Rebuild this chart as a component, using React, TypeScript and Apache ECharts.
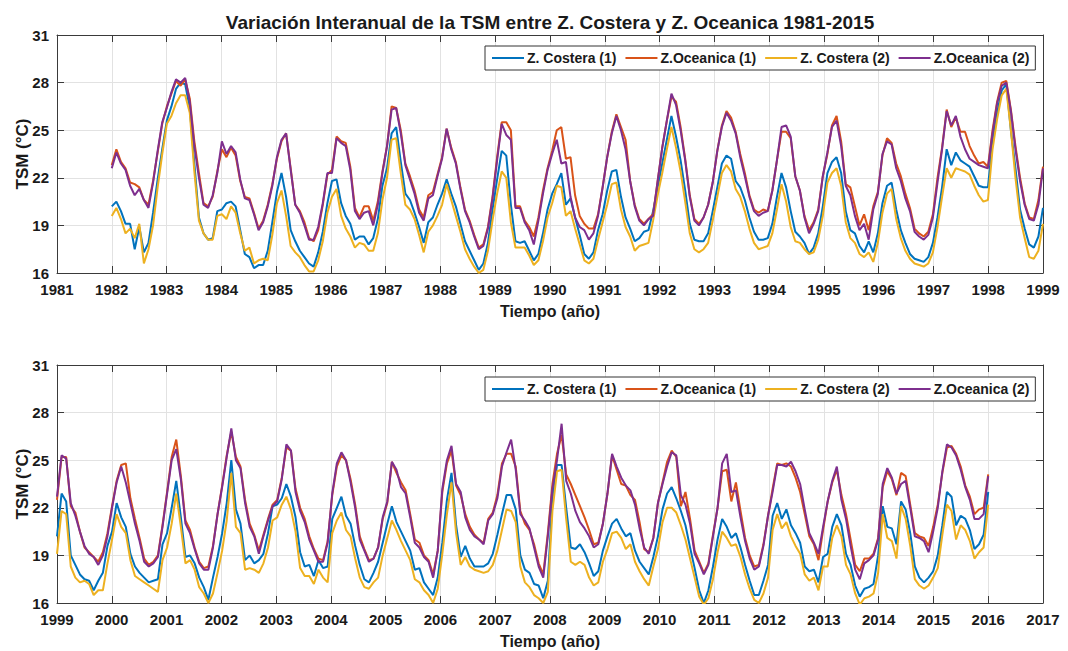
import React, { useEffect, useRef } from "react";
import * as echarts from "echarts";

// ---------- Labels ----------
const TITLE = "Variación Interanual de la TSM entre Z. Costera y Z. Oceanica 1981-2015";
const SERIES_NAMES = ["Z. Costera (1)", "Z.Oceanica (1)", "Z. Costera (2)", "Z.Oceanica (2)"];
const SERIES_COLORS = ["#0072BD", "#D95319", "#EDB120", "#7E2F8E"];
const X_NAME = "Tiempo (año)";
const Y_NAME = "TSM (°C)";
const Y_TICKS = [16, 19, 22, 25, 28, 31];
const TOP_X_TICKS = [1981, 1999];
const BOTTOM_X_TICKS = [1999, 2017];
const TOP_START = 1982;
const TOP_END = 1999;
const BOTTOM_START = 1999;
const BOTTOM_END = 2016;

// ---------- Monthly values, 1982-1998 (top panel) ----------
const costera1Top = [
  20.2, 20.5, 19.9, 19.1, 19.1, 17.5, 18.9, 17.3, 17.9, 19.8, 21.9, 23.8,
  25.6, 26.5, 27.6, 28.0, 27.9, 26.4, 22.9, 19.5, 18.5, 18.1, 18.2, 19.9,
  20.0, 20.4, 20.5, 20.2, 18.7, 17.2, 17.0, 16.3, 16.5, 16.5, 17.4, 19.2,
  21.1, 22.3, 20.8, 18.7, 18.0, 17.4, 17.0, 16.6, 16.4, 17.3, 18.6, 20.4,
  21.8, 21.9, 20.4, 19.6, 19.1, 18.1, 18.3, 18.3, 17.8, 18.2, 19.4, 21.5,
  22.6, 24.8, 25.2, 23.0, 21.0, 20.6, 19.8, 18.9, 17.9, 19.2, 19.5, 20.3,
  21.0, 21.9, 21.0, 20.2, 19.1, 18.0, 17.4, 16.8, 16.2, 16.6, 17.9, 20.0,
  21.9, 23.7, 23.4, 20.3, 18.0, 17.9, 18.0, 17.4, 16.8, 17.2, 18.5, 20.0,
  21.0, 21.6, 22.3, 20.3, 20.7, 19.5, 18.4, 17.2, 16.9, 17.3, 18.7, 19.7,
  21.2, 22.4, 22.5, 20.8, 19.5, 18.8, 18.0, 18.2, 18.6, 18.7, 19.9, 21.4,
  22.9, 24.4, 25.9, 24.6, 23.1, 21.2, 19.1, 18.1, 18.0, 18.0, 18.5, 19.9,
  21.4, 22.9, 23.4, 23.2, 21.8, 21.4, 20.6, 19.5, 18.6, 18.1, 18.1, 18.2,
  19.1, 20.8, 22.3, 21.4, 19.9, 18.6, 18.3, 17.9, 17.2, 17.6, 18.5, 20.2,
  22.3, 23.0, 23.3, 22.3, 19.9, 18.7, 18.5, 17.7, 17.3, 18.0, 17.3, 18.5,
  20.4, 21.5, 21.7, 20.0, 18.7, 17.9, 17.2, 16.9, 16.8, 16.7, 17.0, 17.9,
  19.5, 21.4, 23.8, 22.8, 23.6, 23.1, 22.9, 22.7, 22.1, 21.5, 21.4, 21.4,
  24.3, 26.1, 27.5, 27.9, 25.0, 22.6, 20.0, 18.8, 17.8, 17.6, 18.3, 20.1,
];
const oceanica1Top = [
  22.8, 23.8, 23.0, 22.6, 21.7, 21.6, 21.4, 20.6, 20.3, 21.8, 23.6, 25.4,
  26.5, 27.3, 28.1, 27.8, 28.2, 27.0, 24.3, 22.3, 20.4, 20.2, 20.8, 22.4,
  23.8, 23.3, 23.9, 23.4, 21.8, 20.8, 20.7, 19.8, 18.8, 19.3, 20.3, 21.6,
  23.2, 24.3, 24.8, 22.6, 20.3, 19.9, 19.2, 18.2, 18.0, 18.7, 20.3, 22.2,
  22.5, 24.6, 24.3, 24.2, 22.7, 20.1, 19.5, 20.2, 20.2, 19.3, 20.5, 22.4,
  24.0, 26.5, 26.4, 25.0, 22.9, 22.1, 21.2, 20.0, 19.5, 20.9, 21.1, 22.2,
  23.3, 25.1, 23.9, 23.0, 21.4, 20.0, 19.3, 18.4, 17.6, 17.8, 18.9, 20.8,
  23.3, 25.5, 25.5, 25.0, 20.2, 20.2, 19.3, 18.9, 18.3, 19.5, 21.2, 22.6,
  23.7, 25.0, 25.2, 23.2, 23.3, 20.9, 19.6, 19.1, 18.8, 18.8, 19.7, 21.4,
  23.3, 24.9, 26.0, 25.2, 24.4, 21.8, 20.3, 19.4, 19.1, 19.4, 19.7, 21.8,
  23.9, 25.6, 27.1, 26.8, 25.2, 23.2, 20.9, 19.4, 19.1, 19.5, 20.3, 21.7,
  23.7, 25.3, 26.2, 25.8, 24.9, 23.5, 22.3, 20.9, 20.0, 19.8, 20.0, 19.9,
  21.2, 23.1, 24.9, 24.9, 24.5, 22.1, 21.2, 19.6, 18.7, 19.2, 20.0, 22.1,
  23.5, 25.3, 25.9, 24.3, 21.6, 21.4, 20.2, 19.0, 19.7, 18.7, 20.2, 21.1,
  23.4, 24.5, 24.2, 22.9, 22.1, 21.0, 20.1, 18.8, 18.5, 18.3, 18.6, 19.7,
  22.0, 23.9, 26.3, 25.2, 25.8, 24.9, 24.9, 24.0, 23.4, 22.9, 23.0, 22.7,
  25.0, 26.8, 28.0, 28.1, 26.3, 24.0, 22.0, 20.4, 19.5, 19.4, 20.6, 22.7,
];
const costera2Top = [
  19.6, 20.1, 19.4, 18.5, 18.8, 18.2, 19.1, 16.6, 17.5, 19.0, 21.4, 23.5,
  25.4, 25.9, 26.7, 27.2, 27.2, 26.1, 22.4, 19.3, 18.5, 18.1, 18.1, 19.6,
  19.7, 19.4, 20.2, 19.8, 18.5, 17.4, 17.6, 16.6, 16.8, 16.9, 16.8, 18.4,
  20.4, 21.2, 19.6, 17.7, 17.3, 17.0, 16.5, 16.1, 16.1, 16.8, 18.0, 19.8,
  20.8, 21.3, 19.6, 18.8, 18.3, 17.6, 17.9, 17.8, 17.4, 17.4, 18.5, 20.6,
  22.0, 24.4, 24.5, 22.3, 20.3, 20.0, 19.4, 18.4, 17.3, 18.6, 19.0, 19.6,
  20.3, 21.6, 20.6, 19.6, 18.6, 17.5, 16.9, 16.4, 16.0, 16.2, 17.4, 19.3,
  21.0, 22.4, 22.0, 19.2, 17.6, 17.6, 17.6, 17.1, 16.5, 16.8, 18.0, 19.5,
  20.4, 21.5, 21.4, 19.6, 19.9, 18.8, 17.8, 16.8, 16.6, 16.9, 18.1, 19.2,
  20.3, 21.6, 21.7, 20.0, 18.9, 18.3, 17.4, 17.7, 17.8, 17.9, 19.3, 20.9,
  22.3, 23.8, 25.2, 23.9, 22.4, 20.5, 18.5, 17.5, 17.3, 17.5, 17.9, 19.3,
  20.8, 22.3, 22.8, 22.4, 21.3, 20.8, 19.9, 18.8, 17.9, 17.5, 17.6, 17.7,
  18.5, 20.0, 21.6, 20.5, 18.9, 18.0, 17.9, 17.5, 17.2, 17.3, 18.1, 19.6,
  21.7, 22.3, 22.6, 21.5, 19.2, 18.2, 17.9, 17.2, 17.0, 17.3, 16.7, 17.9,
  19.8, 21.0, 21.3, 19.4, 18.2, 17.4, 16.9, 16.6, 16.5, 16.4, 16.6, 17.3,
  18.9, 20.8, 22.6, 22.0, 22.6, 22.5, 22.4, 22.2, 21.5, 20.9, 20.5, 20.6,
  23.8, 25.7, 27.2, 27.6, 25.0, 22.0, 19.5, 18.2, 17.0, 16.9, 17.4, 19.1,
];
const oceanica2Top = [
  22.6, 23.6, 22.9, 22.5, 21.5, 20.9, 21.3, 20.6, 20.1, 21.7, 23.7, 25.5,
  26.4, 27.4, 28.2, 28.0, 28.3, 26.8, 24.0, 22.0, 20.3, 20.1, 20.9, 22.3,
  24.3, 23.5, 24.0, 23.6, 21.9, 20.7, 20.6, 19.7, 18.7, 19.2, 20.2, 21.5,
  23.3, 24.4, 24.8, 22.5, 20.3, 19.8, 19.0, 18.1, 18.1, 18.9, 20.4, 22.3,
  22.3, 24.5, 24.2, 24.0, 22.5, 19.9, 19.4, 19.8, 19.9, 19.0, 20.3, 22.3,
  24.0, 26.3, 26.4, 24.8, 22.8, 21.9, 21.0, 19.8, 19.3, 20.7, 20.9, 22.1,
  23.2, 25.1, 23.8, 22.9, 21.3, 19.9, 19.2, 18.3, 17.5, 17.7, 18.8, 20.7,
  23.1, 25.4, 24.7, 24.4, 20.1, 20.1, 19.2, 18.7, 17.8, 19.3, 21.0, 22.5,
  23.5, 24.4, 22.9, 23.0, 20.8, 19.5, 18.9, 18.7, 18.1, 18.5, 19.6, 21.4,
  23.3, 24.8, 25.9, 25.0, 23.8, 21.8, 20.2, 19.3, 19.0, 19.4, 19.6, 21.8,
  23.9, 25.6, 27.3, 26.6, 25.0, 23.1, 20.8, 19.3, 19.0, 19.5, 20.3, 21.7,
  23.7, 25.2, 26.1, 25.6, 24.8, 23.3, 22.1, 20.8, 19.9, 19.6, 19.8, 19.9,
  21.2, 23.1, 25.2, 25.3, 24.6, 22.1, 21.2, 19.5, 18.5, 19.1, 19.9, 22.1,
  23.6, 25.2, 25.6, 24.0, 21.5, 20.9, 19.6, 18.7, 19.1, 18.1, 20.0, 21.0,
  23.5, 24.3, 24.1, 22.6, 21.8, 20.7, 19.9, 18.6, 18.3, 18.1, 18.4, 19.5,
  21.7, 23.8, 26.2, 25.3, 25.9, 24.6, 23.8, 23.2, 23.0, 22.8, 22.7, 22.6,
  24.8, 26.7, 27.8, 28.0, 26.2, 23.8, 21.8, 20.3, 19.4, 19.3, 20.3, 22.6,
];

// ---------- Monthly values, 1999-2015 (bottom panel) ----------
const costera1Bottom = [
  20.2, 22.9, 22.4, 19.0, 18.4, 17.8, 17.5, 17.4, 16.8, 17.4, 17.9, 19.6,
  20.5, 22.3, 21.4, 20.8, 19.1, 18.3, 17.9, 17.6, 17.3, 17.4, 17.5, 19.7,
  20.4, 22.0, 23.7, 21.4, 18.9, 19.0, 18.5, 17.6, 17.0, 16.2, 17.6, 18.9,
  20.4, 22.3, 25.0, 21.9, 21.0, 18.7, 19.0, 18.5, 18.7, 19.1, 20.4, 22.1,
  22.2, 22.6, 23.5, 22.7, 21.4, 19.2, 18.3, 18.4, 17.7, 18.7, 18.2, 18.3,
  21.3, 22.0, 22.7, 21.5, 21.0, 19.6, 18.4, 17.5, 17.3, 17.9, 18.6, 19.8,
  21.0, 22.1, 21.1, 20.5, 19.9, 19.3, 18.1, 18.2, 17.3, 16.9, 16.5, 17.6,
  19.8, 22.5, 24.2, 20.9, 18.9, 19.6, 18.8, 18.3, 18.3, 18.3, 18.5, 19.1,
  20.3, 21.6, 22.8, 22.8, 21.9, 19.0, 18.1, 17.9, 17.2, 17.1, 16.3, 17.4,
  22.5, 24.7, 24.7, 22.0, 19.5, 19.4, 19.7, 19.2, 18.5, 17.7, 18.0, 19.3,
  20.2, 21.0, 21.3, 20.7, 20.2, 20.4, 19.3, 18.6, 18.2, 17.8, 18.9, 20.2,
  21.9, 22.9, 23.3, 22.6, 21.8, 20.9, 19.5, 18.2, 16.8, 16.0, 16.8, 18.3,
  20.0, 21.3, 20.8, 20.1, 20.4, 19.5, 18.4, 17.4, 16.5, 16.5, 17.4, 18.4,
  21.5, 22.3, 21.3, 21.9, 20.9, 20.4, 19.8, 18.3, 18.0, 18.1, 17.3, 18.9,
  19.1, 20.8, 21.6, 20.9, 19.1, 18.4, 17.1, 16.4, 16.9, 17.0, 17.2, 19.0,
  22.1, 20.8, 20.7, 19.7, 22.4, 21.9, 20.4, 18.3, 17.6, 17.3, 17.6, 18.0,
  19.0, 20.9, 23.0, 22.7, 20.9, 21.5, 21.3, 20.6, 19.4, 19.7, 20.3, 23.0,
];
const oceanica1Bottom = [
  22.5, 25.2, 25.2, 22.1, 21.7, 20.5, 19.5, 19.2, 18.9, 18.6, 19.2, 20.4,
  22.1, 23.7, 24.7, 24.8, 22.6, 21.3, 20.1, 18.8, 18.4, 18.6, 19.0, 20.9,
  23.0, 25.2, 26.3, 24.0, 21.2, 20.6, 19.5, 18.6, 18.2, 18.3, 19.6, 21.6,
  23.4, 25.3, 26.8, 25.2, 24.6, 22.5, 21.0, 20.3, 19.3, 20.3, 21.3, 22.2,
  22.5, 23.9, 25.8, 25.6, 23.2, 22.0, 21.3, 20.2, 19.4, 18.8, 18.7, 19.9,
  22.8, 24.6, 25.3, 25.0, 23.8, 22.2, 20.2, 19.4, 18.7, 18.8, 19.5, 21.3,
  22.3, 24.9, 24.2, 23.6, 23.1, 21.6, 20.0, 19.8, 19.0, 18.7, 17.8, 19.3,
  23.0, 24.8, 25.6, 23.4, 22.8, 21.6, 20.8, 20.3, 20.0, 19.8, 21.3, 21.7,
  22.8, 24.8, 25.4, 25.4, 24.6, 21.8, 21.0, 20.6, 19.7, 18.5, 17.8, 20.4,
  23.5, 25.4, 26.6, 24.1, 23.5, 22.8, 22.1, 21.4, 20.6, 19.7, 19.8, 21.0,
  22.9, 25.3, 24.4, 23.5, 23.4, 22.8, 22.5, 21.1, 19.4, 19.2, 20.1, 22.3,
  23.6, 24.9, 25.6, 25.2, 22.1, 23.0, 21.3, 19.3, 18.6, 17.9, 18.5, 20.3,
  22.0, 24.3, 24.4, 22.4, 23.6, 21.8, 20.1, 19.0, 18.3, 18.4, 19.7, 21.5,
  23.2, 24.8, 24.7, 24.8, 24.6, 23.9, 23.0, 21.6, 20.2, 19.7, 18.7, 20.6,
  22.4, 23.6, 24.4, 22.8, 21.6, 20.0, 18.4, 18.0, 18.8, 18.8, 19.1, 20.1,
  23.3, 24.3, 23.8, 22.8, 24.2, 24.0, 22.2, 20.4, 20.2, 20.1, 19.6, 20.8,
  22.2, 24.2, 25.8, 25.9, 25.4, 24.6, 23.4, 22.7, 21.6, 21.9, 22.0, 24.1,
];
const costera2Bottom = [
  19.1, 21.8, 21.6, 18.3, 17.6, 17.3, 17.4, 17.2, 16.5, 16.8, 16.8, 18.5,
  20.0, 21.6, 20.8, 20.4, 18.7, 17.7, 17.5, 17.3, 17.1, 16.9, 16.7, 18.7,
  19.5, 21.0, 22.9, 20.8, 18.5, 18.7, 18.1, 17.0, 16.6, 16.0, 16.6, 17.9,
  19.3, 21.2, 24.2, 20.8, 20.4, 18.1, 18.2, 18.1, 17.9, 18.5, 19.5, 21.2,
  21.4, 22.2, 22.7, 21.9, 20.5, 18.2, 17.7, 17.7, 17.2, 18.1, 17.6, 17.3,
  20.4, 21.2, 21.7, 20.6, 20.2, 18.8, 17.6, 17.0, 16.9, 17.3, 17.6, 19.0,
  20.1, 21.2, 20.6, 19.9, 19.3, 18.7, 17.5, 17.3, 16.8, 16.5, 16.0, 16.9,
  19.1, 21.6, 23.6, 20.4, 18.4, 18.9, 18.3, 18.1, 18.0, 17.9, 18.0, 18.4,
  19.3, 20.6, 21.9, 21.8, 21.1, 18.3, 17.3, 17.0, 16.5, 16.3, 16.0, 16.7,
  21.8, 24.3, 24.4, 21.3, 18.6, 18.4, 18.6, 18.4, 17.6, 17.1, 17.3, 18.6,
  19.4, 20.4, 20.5, 20.1, 19.4, 19.7, 18.6, 18.0, 17.5, 17.1, 18.3, 19.4,
  21.1, 22.0, 22.0, 21.7, 20.9, 20.0, 18.8, 17.6, 16.4, 15.9, 16.3, 17.5,
  19.2, 20.5, 20.1, 19.6, 19.7, 18.9, 17.8, 16.9, 16.2, 16.0, 16.6, 17.6,
  20.6, 21.6, 20.7, 21.1, 20.2, 19.6, 19.1, 17.8, 17.4, 17.6, 16.8, 18.3,
  18.3, 20.1, 20.9, 20.2, 18.4, 17.8, 16.6, 15.9, 16.3, 16.4, 16.6, 17.9,
  21.6, 20.1, 19.9, 18.8, 22.1, 21.3, 19.6, 17.5, 17.1, 16.9, 17.1, 17.6,
  18.2, 20.3, 22.2, 21.8, 20.0, 20.9, 20.6, 19.9, 18.8, 19.2, 19.5, 22.2,
];
const oceanica2Bottom = [
  22.7, 25.3, 25.1, 22.3, 21.5, 20.5, 19.6, 19.1, 18.9, 18.4, 19.0, 20.2,
  22.0, 23.6, 24.6, 23.6, 22.3, 21.0, 19.9, 18.6, 18.3, 18.5, 18.9, 20.8,
  22.9, 25.0, 25.7, 23.8, 21.0, 20.4, 19.4, 18.5, 18.1, 18.1, 19.5, 21.6,
  23.3, 25.2, 27.0, 25.0, 24.5, 22.3, 20.8, 20.2, 19.1, 20.2, 21.2, 22.1,
  22.4, 23.8, 26.0, 25.6, 23.0, 21.8, 21.1, 20.0, 19.3, 18.6, 18.6, 19.8,
  22.9, 24.8, 25.5, 25.0, 23.6, 22.0, 20.0, 19.3, 18.6, 18.8, 19.5, 21.4,
  22.4, 24.9, 24.4, 23.3, 22.9, 21.4, 19.8, 19.5, 18.9, 18.6, 17.6, 19.3,
  23.2, 25.0, 25.9, 23.5, 23.0, 21.4, 20.6, 20.2, 20.0, 19.7, 21.2, 21.6,
  22.6, 24.6, 25.5, 26.3, 24.4, 21.6, 21.2, 20.7, 19.5, 18.3, 17.6, 20.2,
  23.2, 25.0, 27.3, 23.7, 22.9, 21.8, 21.1, 20.7, 20.2, 19.5, 19.7, 21.0,
  22.9, 25.4, 24.6, 23.9, 23.4, 23.1, 22.2, 20.7, 19.5, 19.1, 20.1, 22.3,
  23.5, 24.6, 25.5, 25.3, 22.8, 22.2, 21.0, 19.1, 18.5, 17.8, 18.4, 20.2,
  22.0, 24.8, 25.4, 23.0, 23.1, 21.4, 19.9, 18.8, 18.1, 18.3, 19.6, 21.5,
  23.0, 24.7, 24.7, 24.6, 24.9, 24.3, 23.5, 21.9, 20.4, 19.8, 19.1, 20.8,
  22.4, 23.7, 24.6, 22.5, 21.3, 19.6, 18.1, 17.5, 18.5, 18.7, 19.0, 20.0,
  23.5, 24.5, 23.9, 22.9, 23.5, 23.7, 22.0, 20.2, 20.1, 19.9, 19.2, 20.5,
  22.0, 24.3, 26.0, 25.8, 25.3, 24.4, 23.3, 22.5, 21.3, 21.3, 21.6, 24.0,
];

const TOP_VALUES = [costera1Top, oceanica1Top, costera2Top, oceanica2Top];
const BOTTOM_VALUES = [costera1Bottom, oceanica1Bottom, costera2Bottom, oceanica2Bottom];

const FONT = "'Liberation Sans', Arial, Helvetica, sans-serif";
const TEXT_COLOR = "#1a1a1a";
const AXIS_COLOR = "#3a3a3a";
const GRID_COLOR = "#e2e2e2";

function withTime(values: number[], start: number, end: number): [number, number][] {
  const step = (end - start) / (values.length - 1);
  return values.map((v, i) => [start + i * step, v]);
}

function buildOption() {
  const grids = [
    { left: 57, right: 25, top: 35, height: 238 },
    { left: 57, right: 25, top: 365, height: 238 },
  ];
  const xRanges = [TOP_X_TICKS, BOTTOM_X_TICKS];
  const tickStyle = { fontFamily: FONT, fontWeight: "bold" as const, fontSize: 15, color: TEXT_COLOR };
  const nameStyle = { fontFamily: FONT, fontWeight: "bold" as const, fontSize: 16, color: TEXT_COLOR };
  const xAxis: any[] = [];
  const yAxis: any[] = [];
  xRanges.forEach((r, g) => {
    const base = {
      gridIndex: g,
      type: "value",
      min: r[0],
      max: r[1],
      interval: 1,
      axisLine: { show: true, onZero: false, lineStyle: { color: AXIS_COLOR, width: 1 } },
      axisTick: { show: true, inside: true, length: 7, lineStyle: { color: AXIS_COLOR } },
    };
    xAxis.push({
      ...base,
      position: "bottom",
      axisLabel: { ...tickStyle, margin: 9, formatter: (v: number) => String(v) },
      splitLine: { show: true, lineStyle: { color: GRID_COLOR, width: 1 } },
      name: X_NAME,
      nameLocation: "middle",
      nameGap: 30,
      nameMoveOverlap: false,
      nameTextStyle: { ...nameStyle },
    });
    xAxis.push({
      ...base,
      position: "top",
      axisLabel: { show: false },
      splitLine: { show: false },
    });
    const ybase = {
      gridIndex: g,
      type: "value",
      min: Y_TICKS[0],
      max: Y_TICKS[Y_TICKS.length - 1],
      interval: Y_TICKS[1] - Y_TICKS[0],
      axisLine: { show: true, onZero: false, lineStyle: { color: AXIS_COLOR, width: 1 } },
      axisTick: { show: true, inside: true, length: 7, lineStyle: { color: AXIS_COLOR } },
    };
    yAxis.push({
      ...ybase,
      position: "left",
      axisLabel: { ...tickStyle, margin: 8 },
      splitLine: { show: true, lineStyle: { color: GRID_COLOR, width: 1 } },
      name: Y_NAME,
      nameLocation: "middle",
      nameGap: 26,
      nameMoveOverlap: false,
      nameTextStyle: { ...nameStyle, fontSize: 17 },
    });
    yAxis.push({
      ...ybase,
      position: "right",
      axisLabel: { show: false },
      splitLine: { show: false },
    });
  });

  const series: any[] = [];
  [TOP_VALUES, BOTTOM_VALUES].forEach((panel, g) => {
    const start = g === 0 ? TOP_START : BOTTOM_START;
    const end = g === 0 ? TOP_END : BOTTOM_END;
    panel.forEach((vals, k) => {
      series.push({
        name: SERIES_NAMES[k],
        type: "line",
        xAxisIndex: g * 2,
        yAxisIndex: g * 2,
        data: withTime(vals, start, end),
        symbol: "none",
        showSymbol: false,
        smooth: false,
        color: SERIES_COLORS[k],
        lineStyle: { color: SERIES_COLORS[k], width: 2 },
        emphasis: { disabled: true },
        z: 2 + k,
      });
    });
  });

  const legendBase = {
    left: 485,
    orient: "horizontal",
    data: SERIES_NAMES,
    selectedMode: false,
    itemWidth: 32,
    itemHeight: 14,
    itemGap: 8,
    padding: [5, 6, 5, 6],
    borderColor: "#333",
    borderWidth: 1,
    backgroundColor: "#fff",
    itemStyle: { opacity: 0, color: "rgba(0,0,0,0)", borderColor: "rgba(0,0,0,0)", borderWidth: 0 },
    lineStyle: { width: 2, opacity: 1 },
    textStyle: { fontFamily: FONT, fontWeight: "bold", fontSize: 14, color: TEXT_COLOR, padding: [0, 0, 0, -2] },
  };

  return {
    animation: false,
    backgroundColor: "#fff",
    grid: grids,
    xAxis,
    yAxis,
    series,
    legend: [
      { ...legendBase, top: 46 },
      { ...legendBase, top: 377 },
    ],
    graphic: [
      {
        type: "text",
        x: 550,
        y: 22,
        style: {
          text: TITLE,
          font: `bold 19px ${FONT}`,
          fill: TEXT_COLOR,
          textAlign: "center",
          textVerticalAlign: "middle",
        },
      },
    ],
  };
}

export default function App() {
  const ref = useRef<HTMLDivElement>(null);
  useEffect(() => {
    if (!ref.current) return;
    const chart = echarts.init(ref.current, undefined, { renderer: "svg" });
    chart.setOption(buildOption() as any);
    return () => chart.dispose();
  }, []);
  return (
    <div
      ref={ref}
      style={{ position: "absolute", left: 0, top: 0, width: 1068, height: 651, background: "#fff" }}
    />
  );
}
